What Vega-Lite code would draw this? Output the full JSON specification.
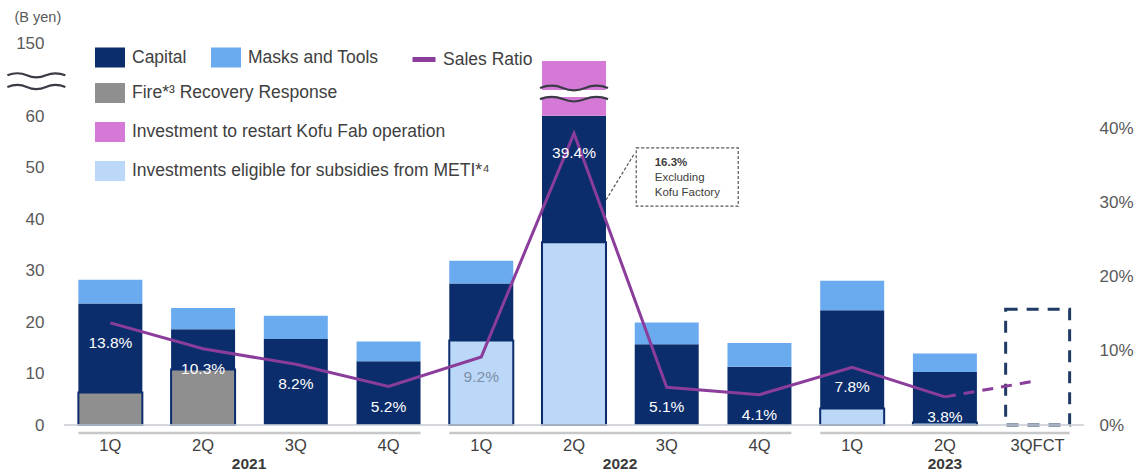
{
  "$schema": "https://vega.github.io/schema/vega-lite/v6.json",
  "width": 1020,
  "height": 382,
  "autosize": {"type": "none"},
  "padding": {"left": 64, "top": 43, "right": 56, "bottom": 47},
  "background": "white",
  "config": {
    "view": {"stroke": null},
    "font": "Liberation Sans",
    "axis": {"labelFont": "Liberation Sans", "grid": false, "domain": false, "ticks": false, "tickSize": 0},
    "legend": {"labelFont": "Liberation Sans", "labelFontSize": 17.5, "labelColor": "#404040", "labelLimit": 600, "padding": 0, "titlePadding": 0}
  },
  "datasets": {
    "capex": [
      {"period": "2021-1Q", "cat": "Fire*³ Recovery Response", "value": 6.3},
      {"period": "2021-1Q", "cat": "Capital", "value": 17.3},
      {"period": "2021-1Q", "cat": "Masks and Tools", "value": 4.6},
      {"period": "2021-2Q", "cat": "Fire*³ Recovery Response", "value": 10.8},
      {"period": "2021-2Q", "cat": "Capital", "value": 7.8},
      {"period": "2021-2Q", "cat": "Masks and Tools", "value": 4.1},
      {"period": "2021-3Q", "cat": "Capital", "value": 16.7},
      {"period": "2021-3Q", "cat": "Masks and Tools", "value": 4.5},
      {"period": "2021-4Q", "cat": "Capital", "value": 12.4},
      {"period": "2021-4Q", "cat": "Masks and Tools", "value": 3.8},
      {"period": "2022-1Q", "cat": "Investments eligible for subsidies from METI*⁴", "value": 16.4},
      {"period": "2022-1Q", "cat": "Capital", "value": 11.1},
      {"period": "2022-1Q", "cat": "Masks and Tools", "value": 4.4},
      {"period": "2022-2Q", "cat": "Investments eligible for subsidies from METI*⁴", "value": 35.5},
      {"period": "2022-2Q", "cat": "Capital", "value": 24.9},
      {"period": "2022-2Q", "cat": "Investment to restart Kofu Fab operation", "value": 67.4},
      {"period": "2022-3Q", "cat": "Capital", "value": 15.7},
      {"period": "2022-3Q", "cat": "Masks and Tools", "value": 4.2},
      {"period": "2022-4Q", "cat": "Capital", "value": 11.3},
      {"period": "2022-4Q", "cat": "Masks and Tools", "value": 4.6},
      {"period": "2023-1Q", "cat": "Investments eligible for subsidies from METI*⁴", "value": 3.2},
      {"period": "2023-1Q", "cat": "Capital", "value": 19.1},
      {"period": "2023-1Q", "cat": "Masks and Tools", "value": 5.7},
      {"period": "2023-2Q", "cat": "Investments eligible for subsidies from METI*⁴", "value": 0.5},
      {"period": "2023-2Q", "cat": "Capital", "value": 9.8},
      {"period": "2023-2Q", "cat": "Masks and Tools", "value": 3.6}
    ],
    "forecast": [
      {"period": "2023-3QFCT", "value": 22.5}
    ],
    "ratio": [
      {"period": "2021-1Q", "ratio": 0.138, "kind": "actual"},
      {"period": "2021-2Q", "ratio": 0.103, "kind": "actual"},
      {"period": "2021-3Q", "ratio": 0.082, "kind": "actual"},
      {"period": "2021-4Q", "ratio": 0.052, "kind": "actual"},
      {"period": "2022-1Q", "ratio": 0.092, "kind": "actual"},
      {"period": "2022-2Q", "ratio": 0.394, "kind": "actual"},
      {"period": "2022-3Q", "ratio": 0.051, "kind": "actual"},
      {"period": "2022-4Q", "ratio": 0.041, "kind": "actual"},
      {"period": "2023-1Q", "ratio": 0.078, "kind": "actual"},
      {"period": "2023-2Q", "ratio": 0.038, "kind": "actual"},
      {"period": "2023-2Q", "ratio": 0.038, "kind": "forecast"},
      {"period": "2023-3QFCT", "ratio": 0.06, "kind": "forecast"}
    ],
    "years": [
      {"year": "2021", "first": "2021-1Q", "last": "2021-4Q", "mid": "2021-2Q"},
      {"year": "2022", "first": "2022-1Q", "last": "2022-4Q", "mid": "2022-2Q"},
      {"year": "2023", "first": "2023-1Q", "last": "2023-3QFCT", "mid": "2023-2Q"}
    ],
    "one": [{}]
  },
  "resolve": {"scale": {"y": "independent"}},
  "layer": [
    {
      "resolve": {"scale": {"fill": "independent"}},
      "layer": [
        {
          "data": {"name": "capex"},
          "transform": [
            {"stack": "value", "groupby": ["period"], "as": ["v0", "v1"]},
            {"filter": {"field": "cat", "oneOf": ["Capital", "Masks and Tools"]}}
          ],
          "mark": {"type": "bar"},
          "encoding": {
            "x": {
              "field": "period", "type": "nominal", "sort": null,
              "scale": {
                "domain": ["2021-1Q", "2021-2Q", "2021-3Q", "2021-4Q", "2022-1Q", "2022-2Q", "2022-3Q", "2022-4Q", "2023-1Q", "2023-2Q", "2023-3QFCT"],
                "paddingInner": 0.31, "paddingOuter": 0.155
              },
              "axis": {"title": null, "labelExpr": "split(datum.value, '-')[1]", "labelAngle": 0, "labelFontSize": 16.5, "labelColor": "#404040", "labelPadding": 12}
            },
            "y": {
              "field": "v1", "type": "quantitative",
              "scale": {"domain": [0, 60, 150], "range": [382, 73, 0], "nice": false, "zero": false},
              "axis": {
                "values": [0, 10, 20, 30, 40, 50, 60, 150],
                "labelFontSize": 17, "labelColor": "#595959", "labelPadding": 20,
                "title": "(B yen)", "titleAngle": 0, "titleAlign": "left", "titleBaseline": "middle",
                "titleX": -50, "titleY": -26, "titleFontSize": 14.5, "titleFontWeight": "normal", "titleColor": "#595959", "titleFont": "Liberation Sans"
              }
            },
            "y2": {"field": "v0"},
            "fill": {
              "field": "cat", "type": "nominal",
              "scale": {"domain": ["Capital", "Masks and Tools"], "range": ["#0b2d6b", "#6aabf0"]},
              "legend": {
                "orient": "none", "legendX": 36, "legendY": 4.5, "direction": "horizontal", "columns": 2,
                "title": null, "symbolType": "M-1.5,-1H1.5V1H-1.5Z", "symbolSize": 400, "symbolStrokeWidth": 0,
                "symbolOpacity": 1, "labelOffset": 12, "columnPadding": 24
              }
            }
          }
        },
        {
          "data": {"name": "capex"},
          "transform": [
            {"stack": "value", "groupby": ["period"], "as": ["v0", "v1"]},
            {"filter": {"field": "cat", "oneOf": ["Fire*³ Recovery Response", "Investment to restart Kofu Fab operation", "Investments eligible for subsidies from METI*⁴"]}}
          ],
          "mark": {"type": "bar", "strokeWidth": 2},
          "encoding": {
            "x": {"field": "period", "type": "nominal", "sort": null},
            "y": {"field": "v1", "type": "quantitative"},
            "y2": {"field": "v0"},
            "fill": {
              "field": "cat", "type": "nominal",
              "scale": {
                "domain": ["Fire*³ Recovery Response", "Investment to restart Kofu Fab operation", "Investments eligible for subsidies from METI*⁴"],
                "range": ["#8f8f8f", "#d47ad6", "#bbd8f8"]
              },
              "legend": {
                "orient": "none", "legendX": 36, "legendY": 40, "direction": "vertical", "columns": 1,
                "title": null, "symbolType": "M-1.5,-1H1.5V1H-1.5Z", "symbolSize": 400, "symbolStrokeWidth": 0,
                "symbolOpacity": 1, "labelOffset": 12, "rowPadding": 19
              }
            },
            "stroke": {
              "condition": {"test": "datum.cat !== 'Investment to restart Kofu Fab operation'", "value": "#0b2d6b"},
              "value": null
            }
          }
        },
        {
          "data": {"name": "forecast"},
          "mark": {"type": "bar", "fillOpacity": 0, "stroke": "#1f3b63", "strokeWidth": 3, "strokeDash": [12, 9]},
          "encoding": {
            "x": {"field": "period", "type": "nominal", "sort": null},
            "y": {"field": "value", "type": "quantitative"},
            "y2": {"datum": 0}
          }
        },
        {
          "data": {"name": "one"},
          "mark": {"type": "rule", "color": "#c9ced6", "strokeWidth": 2, "opacity": 0.8},
          "encoding": {"y": {"datum": 0}}
        },
        {
          "data": {"name": "years"},
          "mark": {"type": "rule", "color": "#c8c8c8", "strokeWidth": 2.5, "yOffset": 8},
          "encoding": {
            "x": {"field": "first", "type": "nominal", "bandPosition": 0},
            "x2": {"field": "last", "bandPosition": 1},
            "y": {"datum": 0}
          }
        },
        {
          "data": {"name": "years"},
          "transform": [{"filter": "datum.year !== '2023'"}],
          "mark": {"type": "text", "fontSize": 15.5, "fontWeight": "bold", "color": "#3a3a3a", "baseline": "middle", "dx": 46, "dy": 39},
          "encoding": {
            "x": {"field": "mid", "type": "nominal"},
            "y": {"datum": 0},
            "text": {"field": "year"}
          }
        },
        {
          "data": {"name": "years"},
          "transform": [{"filter": "datum.year === '2023'"}],
          "mark": {"type": "text", "fontSize": 15.5, "fontWeight": "bold", "color": "#3a3a3a", "baseline": "middle", "dy": 39},
          "encoding": {
            "x": {"field": "mid", "type": "nominal"},
            "y": {"datum": 0},
            "text": {"field": "year"}
          }
        },
        {
          "data": {"name": "one"},
          "mark": {"type": "bar", "color": "white"},
          "encoding": {
            "x": {"datum": "2022-2Q"},
            "y": {"datum": 92},
            "y2": {"datum": 83.4}
          }
        },
        {
          "data": {"name": "one"},
          "mark": {
            "type": "point", "filled": false, "opacity": 1, "stroke": "#3b3b48", "strokeWidth": 2.2, "size": 4624,
            "shape": "M-1,-0.164 C-0.75,-0.26 -0.55,-0.26 -0.33,-0.164 S0.1,-0.068 0.33,-0.164 S0.75,-0.26 1,-0.164 M-1,0.164 C-0.75,0.068 -0.55,0.068 -0.33,0.164 S0.1,0.26 0.33,0.164 S0.75,0.068 1,0.164"
          },
          "encoding": {
            "x": {"datum": "2022-2Q"},
            "y": {"datum": 87.7}
          }
        },
        {
          "data": {"name": "one"},
          "mark": {
            "type": "point", "filled": false, "opacity": 1, "stroke": "#3b3b48", "strokeWidth": 2.2, "size": 3364, "xOffset": -74,
            "shape": "M-1,-0.2 C-0.75,-0.3 -0.55,-0.3 -0.33,-0.2 S0.1,-0.1 0.33,-0.2 S0.75,-0.3 1,-0.2 M-1,0.2 C-0.75,0.1 -0.55,0.1 -0.33,0.2 S0.1,0.3 0.33,0.2 S0.75,0.1 1,0.2"
          },
          "encoding": {
            "x": {"datum": "2021-1Q"},
            "y": {"datum": 103}
          }
        },
        {
          "data": {"name": "one"},
          "mark": {"type": "bar", "width": 102, "xOffset": 20.5, "fillOpacity": 0, "stroke": "#555555", "strokeWidth": 1.2, "strokeDash": [3, 2]},
          "encoding": {
            "x": {"datum": "2022-3Q"},
            "y": {"datum": 53.8},
            "y2": {"datum": 42.5}
          }
        },
        {
          "data": {"name": "one"},
          "mark": {"type": "rule", "color": "#555555", "strokeWidth": 1.2, "strokeDash": [3, 2]},
          "encoding": {
            "x": {"datum": "2022-2Q", "bandPosition": 1},
            "x2": {"datum": "2022-3Q", "bandPosition": 0},
            "y": {"datum": 43.7},
            "y2": {"datum": 52.8}
          }
        },
        {
          "data": {"name": "one"},
          "mark": {"type": "text", "fontSize": 11.5, "fontWeight": "bold", "color": "#404040", "align": "left", "baseline": "middle", "dx": -12},
          "encoding": {"x": {"datum": "2022-3Q"}, "y": {"datum": 50.9}, "text": {"value": "16.3%"}}
        },
        {
          "data": {"name": "one"},
          "mark": {"type": "text", "fontSize": 11.5, "color": "#404040", "align": "left", "baseline": "middle", "dx": -12},
          "encoding": {"x": {"datum": "2022-3Q"}, "y": {"datum": 48.0}, "text": {"value": "Excluding"}}
        },
        {
          "data": {"name": "one"},
          "mark": {"type": "text", "fontSize": 11.5, "color": "#404040", "align": "left", "baseline": "middle", "dx": -12},
          "encoding": {"x": {"datum": "2022-3Q"}, "y": {"datum": 45.0}, "text": {"value": "Kofu Factory"}}
        }
      ]
    },
    {
      "layer": [
        {
          "data": {"name": "ratio"},
          "transform": [{"filter": "datum.kind === 'actual'"}],
          "mark": {"type": "line", "strokeWidth": 3},
          "encoding": {
            "x": {"field": "period", "type": "nominal", "sort": null},
            "y": {
              "field": "ratio", "type": "quantitative",
              "scale": {"domain": [0, 0.5162], "nice": false, "zero": true},
              "axis": {"orient": "right", "values": [0, 0.1, 0.2, 0.3, 0.4], "format": ".0%", "title": null, "labelFontSize": 17, "labelColor": "#595959", "labelPadding": 15}
            },
            "stroke": {
              "datum": "Sales Ratio",
              "scale": {"range": ["#8b3d9c"]},
              "legend": {
                "orient": "none", "legendX": 346, "legendY": 2.5, "title": null,
                "symbolType": "stroke", "symbolSize": 529, "symbolStrokeWidth": 5, "labelOffset": 5
              }
            }
          }
        },
        {
          "data": {"name": "ratio"},
          "transform": [{"filter": "datum.kind === 'forecast'"}],
          "mark": {"type": "line", "strokeWidth": 3, "strokeDash": [11, 8], "color": "#8b3d9c"},
          "encoding": {
            "x": {"field": "period", "type": "nominal", "sort": null},
            "y": {"field": "ratio", "type": "quantitative"}
          }
        },
        {
          "data": {"name": "ratio"},
          "transform": [{"filter": "datum.kind === 'actual'"}],
          "mark": {"type": "text", "fontSize": 15.5, "baseline": "middle", "dy": 20},
          "encoding": {
            "x": {"field": "period", "type": "nominal", "sort": null},
            "y": {"field": "ratio", "type": "quantitative"},
            "text": {"field": "ratio", "format": ".1%"},
            "color": {
              "condition": {"test": "datum.period === '2022-1Q'", "value": "#7d8ea8"},
              "value": "white"
            }
          }
        }
      ]
    }
  ]
}
